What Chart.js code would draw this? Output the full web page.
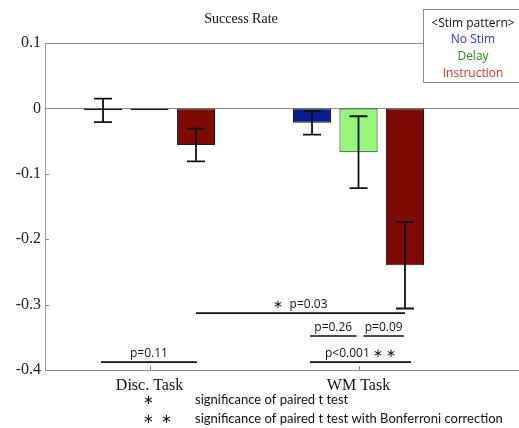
<!DOCTYPE html>
<html>
<head>
<meta charset="utf-8">
<script src="https://cdn.jsdelivr.net/npm/chart.js@4"></script>
<style>
  body { margin: 0; background: #fff; }
  #wrap { width: 519px; height: 428px; }
</style>
</head>
<body>
<div id="wrap"><canvas id="successChart" width="519" height="428"></canvas></div>
<script>
const categories = ['Disc. Task', 'WM Task'];
const seriesNames = ['No Stim', 'Delay', 'Instruction'];
const noStim = [-0.003, -0.022];
const delay = [-0.003, -0.067];
const instruction = [-0.056, -0.240];
const noStimErr = [0.018, 0.018];
const delayErr = [0, 0.055];
const instructionErr = [0.025, 0.066];
const yTicks = [0.1, 0, -0.1, -0.2, -0.3, -0.4];

// significance brackets: [category, series] -> [category, series]
const comparisons = [
    { from: [0, 2], to: [1, 2], y: -0.313, label: '\u2217  p=0.03', pad: [0, 0] },
    { from: [1, 0], to: [1, 1], y: -0.348, label: 'p=0.26', pad: [-2, -2] },
    { from: [1, 1], to: [1, 2], y: -0.348, label: 'p=0.09', pad: [5, -1] },
    { from: [0, 0], to: [0, 2], y: -0.388, label: 'p=0.11', pad: [-2, 1] },
    { from: [1, 0], to: [1, 2], y: -0.388, label: 'p<0.001 \u2217 \u2217', pad: [-2, 6] }
];

const barColors = ['#0c1b8e', '#94f77c', '#7e0a04'];
const legendColors = ['#1d3cf0', '#2a8a22', '#e2301f'];
const errors = [noStimErr, delayErr, instructionErr];

const SERIF = '"Liberation Serif", "Times New Roman", serif';
const SANS = '"Open Sans", "Noto Sans", sans-serif';
const NOTE = 'Lato, "Open Sans", sans-serif';

const decorations = {
    id: 'decorations',
    beforeDatasetsDraw(chart) {
        const { ctx, chartArea, scales } = chart;
        const W = chart.width;
        const y0 = scales.y.getPixelForValue(0);
        ctx.save();
        ctx.strokeStyle = '#8a8a8a';
        ctx.lineWidth = 1;
        ctx.beginPath();
        ctx.moveTo(chartArea.left, Math.round(y0) + 0.5);
        ctx.lineTo(W, Math.round(y0) + 0.5);
        ctx.moveTo(chartArea.left, Math.round(chartArea.top) + 0.5);
        ctx.lineTo(423, Math.round(chartArea.top) + 0.5);
        ctx.moveTo(chartArea.left, Math.round(chartArea.bottom) + 0.5);
        ctx.lineTo(W, Math.round(chartArea.bottom) + 0.5);
        // inward ticks
        yTicks.forEach(v => {
            const py = Math.round(scales.y.getPixelForValue(v)) + 0.5;
            ctx.moveTo(chartArea.left, py);
            ctx.lineTo(chartArea.left + 4, py);
        });
        categories.forEach((c, i) => {
            const px = Math.round(scales.x.getPixelForValue(i)) + 0.5;
            ctx.moveTo(px, chartArea.bottom);
            ctx.lineTo(px, chartArea.bottom - 4);
        });
        ctx.stroke();
        ctx.restore();
    },
    afterDatasetsDraw(chart) {
        const { ctx, scales } = chart;
        const y = scales.y;
        ctx.save();

        // error bars
        ctx.strokeStyle = '#111';
        ctx.lineWidth = 1.8;
        chart.data.datasets.forEach((ds, d) => {
            const meta = chart.getDatasetMeta(d);
            meta.data.forEach((bar, i) => {
                const e = errors[d][i];
                if (!e) return;
                const v = ds.data[i];
                const top = y.getPixelForValue(v + e);
                const bot = y.getPixelForValue(v - e);
                ctx.beginPath();
                ctx.moveTo(bar.x, top);
                ctx.lineTo(bar.x, bot);
                ctx.moveTo(bar.x - 9, top);
                ctx.lineTo(bar.x + 9, top);
                ctx.moveTo(bar.x - 9, bot);
                ctx.lineTo(bar.x + 9, bot);
                ctx.stroke();
            });
        });

        // significance brackets
        ctx.font = '12px ' + SANS;
        ctx.fillStyle = '#111';
        ctx.textAlign = 'center';
        ctx.textBaseline = 'alphabetic';
        ctx.lineWidth = 1.6;
        comparisons.forEach(c => {
            const x1 = chart.getDatasetMeta(c.from[1]).data[c.from[0]].x + c.pad[0];
            const x2 = chart.getDatasetMeta(c.to[1]).data[c.to[0]].x + c.pad[1];
            const py = y.getPixelForValue(c.y);
            ctx.beginPath();
            ctx.moveTo(x1, py);
            ctx.lineTo(x2, py);
            ctx.stroke();
            ctx.fillText(c.label, (x1 + x2) / 2, py - 5);
        });

        // title
        ctx.font = '14px ' + SERIF;
        ctx.fillStyle = '#111';
        ctx.textBaseline = 'middle';
        ctx.fillText('Success Rate', 241, 19);

        // legend box
        ctx.fillStyle = '#fff';
        ctx.fillRect(423, 9, 100, 73);
        ctx.strokeStyle = '#8a8a8a';
        ctx.lineWidth = 1;
        ctx.strokeRect(423.5, 9.5, 100, 73);
        ctx.font = '12px ' + SANS;
        ctx.fillStyle = '#111';
        ctx.fillText('<Stim pattern>', 473, 24);
        seriesNames.forEach((n, i) => {
            ctx.fillStyle = legendColors[i];
            ctx.fillText(n, 473, 40 + i * 17);
        });

        // footnotes
        ctx.fillStyle = '#111';
        ctx.textAlign = 'left';
        ctx.font = '13px ' + NOTE;
        ctx.fillText('significance of paired t test', 195, 400, 154);
        ctx.fillText('significance of paired t test with Bonferroni correction', 195, 419, 318);
        ctx.font = '13px ' + SANS;
        ctx.fillText('\u2217', 143, 400);
        ctx.fillText('\u2217  \u2217', 143, 419);
        ctx.restore();
    }
};

new Chart(document.getElementById('successChart').getContext('2d'), {
    type: 'bar',
    data: {
        labels: categories,
        datasets: [
            { label: seriesNames[0], data: noStim, backgroundColor: barColors[0] },
            { label: seriesNames[1], data: delay, backgroundColor: barColors[1] },
            { label: seriesNames[2], data: instruction, backgroundColor: barColors[2] }
        ].map(ds => Object.assign(ds, {
            borderColor: '#1a1a1a',
            borderWidth: 1,
            borderSkipped: false,
            categoryPercentage: 0.667,
            barPercentage: 0.82
        }))
    },
    options: {
        responsive: false,
        animation: false,
        layout: { padding: { top: 43, right: 56, left: 0, bottom: 0 } },
        plugins: {
            legend: { display: false },
            title: { display: false },
            tooltip: { enabled: false }
        },
        scales: {
            x: {
                grid: { display: false, drawTicks: false },
                border: { display: false },
                ticks: { color: '#111', padding: 6, font: { family: SERIF, size: 16 } },
                afterFit: s => { s.height = 58; }
            },
            y: {
                min: -0.4,
                max: 0.1,
                grid: { display: false, drawTicks: false },
                border: { display: true, color: '#9a9a9a', width: 1 },
                ticks: {
                    stepSize: 0.1,
                    color: '#222',
                    padding: 4,
                    font: { family: SERIF, size: 16 },
                    callback: v => String(Math.round(v * 10) / 10)
                },
                afterFit: s => { s.width = 45; }
            }
        }
    },
    plugins: [decorations]
});
</script>
</body>
</html>
